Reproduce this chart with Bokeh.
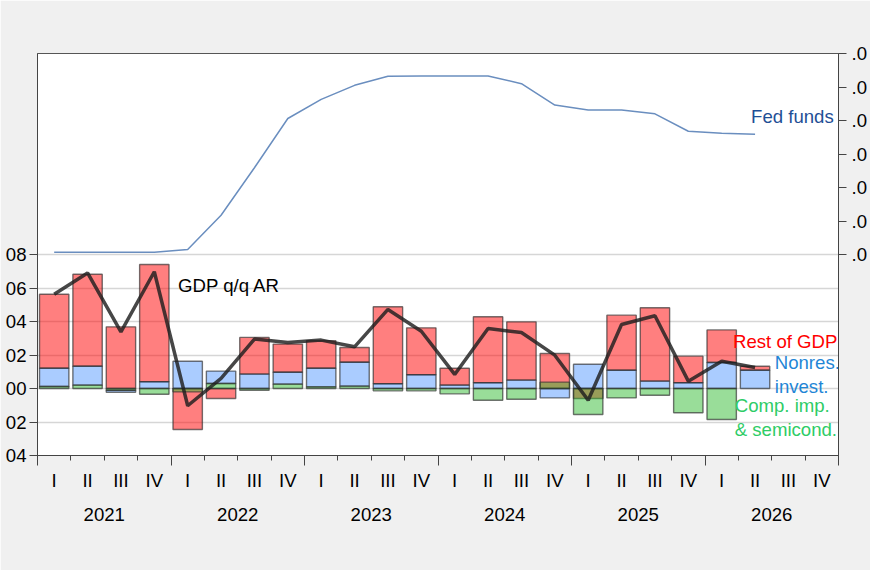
from bokeh.plotting import figure
from bokeh.models import (Range1d, LinearAxis, FixedTicker, Label, Grid,
                          ColumnDataSource, CustomLabelingPolicy)
from bokeh.embed import file_html
from bokeh.resources import INLINE

# ---- data -------------------------------------------------------------
years = ["2021", "2022", "2023", "2024", "2025", "2026"]
quarter_names = ["I", "II", "III", "IV"]

# contributions to GDP growth (q/q, annualized), 2021Q1 - 2026Q2
comp_semis = [0.0012, 0.0020, -0.0010, -0.0034, -0.0020, 0.0030, -0.0010, 0.0026,
              0.0010, 0.0014, -0.0014, -0.0014, -0.0032, -0.0070, -0.0064, 0.0038,
              -0.0155, -0.0056, -0.0040, -0.0145, -0.0185, 0.0000]
nonres_inv = [0.0109, 0.0113, -0.0012, 0.0040, 0.0163, 0.0074, 0.0086, 0.0071,
              0.0111, 0.0143, 0.0028, 0.0082, 0.0020, 0.0034, 0.0050, -0.0056,
              0.0145, 0.0109, 0.0044, 0.0034, 0.0155, 0.0109]
rest_gdp = [0.0442, 0.0549, 0.0368, 0.0700, -0.0245, -0.0060, 0.0219, 0.0168,
            0.0164, 0.0088, 0.0460, 0.0280, 0.0101, 0.0394, 0.0348, 0.0209,
            -0.0060, 0.0329, 0.0438, 0.0159, 0.0195, 0.0024]
gdp_growth = [0.0563, 0.0690, 0.0338, 0.0697, -0.0103, 0.0060, 0.0295, 0.0275,
              0.0289, 0.0249, 0.0472, 0.0342, 0.0084, 0.0358, 0.0334, 0.0199,
              -0.0070, 0.0382, 0.0434, 0.0044, 0.0163, 0.0125]
fed_funds = [0.0007, 0.0007, 0.0007, 0.0007, 0.0015, 0.0117, 0.0259, 0.0406,
             0.0463, 0.0505, 0.0532, 0.0533, 0.0533, 0.0533, 0.0510, 0.0446,
             0.0431, 0.0431, 0.0420, 0.0368, 0.0362, 0.0359]

left_ticks = [-0.04, -0.02, 0.0, 0.02, 0.04, 0.06, 0.08]
left_tick_text = ["04", "02", "00", "02", "04", "06", "08"]
right_ticks = [0.0, 0.01, 0.02, 0.03, 0.04, 0.05, 0.06]
right_tick_text = [".0"] * len(right_ticks)

FONT = "Liberation Sans"
FS = "18.6px"

n_q = len(years) * 4
xs = [i + 0.5 for i in range(len(gdp_growth))]

# ---- figure -----------------------------------------------------------
p = figure(width=870, height=570, output_backend="svg", toolbar_location=None,
           x_range=Range1d(0, n_q), y_range=Range1d(-0.04, 0.20),
           x_axis_location=None, y_axis_location=None,
           min_border_left=37, min_border_right=30, min_border_top=53,
           min_border_bottom=115)
p.border_fill_color = "#f0f0f0"
p.background_fill_color = "white"
p.outline_line_color = "#555555"
p.outline_line_width = 1
p.extra_y_ranges = {"ff": Range1d(-0.06, 0.06)}

for g in p.grid:
    g.visible = False
p.add_layout(Grid(dimension=1, ticker=FixedTicker(ticks=left_ticks),
                  grid_line_color="#d6d6d6", grid_line_width=1.3))

# ---- stacked bars: each series sits on the previous one when signs agree
def stack(series_list):
    out = []
    prev_val = [0.0] * len(xs)
    prev_top = [0.0] * len(xs)
    for vals in series_list:
        bottoms, tops = [], []
        for i, v in enumerate(vals):
            if prev_val[i] != 0 and (v > 0) == (prev_val[i] > 0):
                base = prev_top[i]
            else:
                base = 0.0
            bottoms.append(base)
            tops.append(base + v)
        out.append((bottoms, tops))
        prev_val = list(vals)
        prev_top = tops
    return out

(g_b, g_t), (b_b, b_t), (r_b, r_t) = stack([comp_semis, nonres_inv, rest_gdp])

def bars(bottom, top, fill):
    keep = [i for i in range(len(xs)) if top[i] != bottom[i]]
    src = ColumnDataSource(dict(x=[xs[i] for i in keep],
                                bottom=[bottom[i] for i in keep],
                                top=[top[i] for i in keep]))
    p.vbar(x="x", bottom="bottom", top="top", width=0.88, source=src,
           fill_color=fill, fill_alpha=0.5,
           line_color="#2b2b2b", line_alpha=0.65, line_width=1.4)

bars(r_b, r_t, "#ff0000")
bars(b_b, b_t, "#5599ff")
bars(g_b, g_t, "#33bb33")

p.line(xs, gdp_growth, line_color="#1e1e1e", line_alpha=0.82, line_width=3.5)
p.line(xs, fed_funds, y_range_name="ff", line_color="#6a8ebf", line_width=1.5)

# ---- axes -------------------------------------------------------------
def style(ax):
    ax.major_label_text_font = FONT
    ax.major_label_text_font_size = FS
    ax.major_label_text_color = "black"
    ax.axis_line_color = "#444444"
    ax.major_tick_line_color = "#444444"
    ax.minor_tick_line_color = "#444444"
    ax.major_tick_in = 0
    ax.minor_tick_in = 0
    ax.minor_tick_out = 0

yl = LinearAxis(ticker=FixedTicker(ticks=left_ticks),
                major_label_overrides=dict(zip(left_ticks, left_tick_text)))
style(yl)
yl.major_tick_out = 8
yl.major_label_standoff = 3
p.add_layout(yl, "left")

yr = LinearAxis(y_range_name="ff", ticker=FixedTicker(ticks=right_ticks),
                major_label_overrides=dict(zip(right_ticks, right_tick_text)))
style(yr)
yr.major_tick_out = 8
yr.major_label_standoff = 5
p.add_layout(yr, "right")

# tick marks only: long at year boundaries, short at quarter boundaries
year_edges = list(range(0, n_q + 1, 4))
xa = LinearAxis(ticker=FixedTicker(ticks=year_edges, minor_ticks=list(range(n_q + 1))),
                major_label_policy=CustomLabelingPolicy(
                    code="for (const i of indices) { indices.unset(i) }\nreturn indices"))
style(xa)
xa.major_tick_out = 10
xa.minor_tick_out = 5
xa.major_label_text_font_size = "0px"
xa.major_label_standoff = 0
p.add_layout(xa, "below")

q_pos = [i + 0.5 for i in range(n_q)]
q_text = [quarter_names[i % 4] for i in range(n_q)]
xq = LinearAxis(ticker=FixedTicker(ticks=q_pos),
                major_label_overrides=dict(zip(q_pos, q_text)))
style(xq)
xq.axis_line_color = None
xq.major_tick_out = 0
xq.major_label_standoff = 4
p.add_layout(xq, "below")

y_pos = [4 * k + 2 for k in range(len(years))]
xy = LinearAxis(ticker=FixedTicker(ticks=y_pos),
                major_label_overrides=dict(zip(y_pos, years)))
style(xy)
xy.axis_line_color = None
xy.major_tick_out = 0
xy.major_label_standoff = 14
p.add_layout(xy, "below")

# ---- series labels ------------------------------------------------------
def note(x, y, text, color, rng="default"):
    p.add_layout(Label(x=x, y=y, text=text, text_color=color, text_font=FONT,
                       text_font_size=FS, text_baseline="middle", text_align="left",
                       y_range_name=rng))

note(4.21, 0.0613, "GDP q/q AR", "black")
note(21.38, 0.0413, "Fed funds", "#1f4f96", rng="ff")
note(20.84, 0.0281, "Rest of GDP", "#ff0000")
note(22.09, 0.0153, "Nonres.", "#1f86d6")
note(22.09, 0.0010, "invest.", "#1f86d6")
note(20.89, -0.0099, "Comp. imp.", "#2ecc66")
note(20.89, -0.0247, "& semicond.", "#2ecc66")

open("out.html", "w").write(file_html(p, INLINE))
